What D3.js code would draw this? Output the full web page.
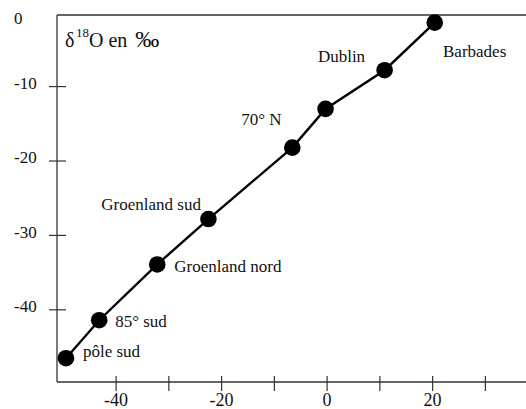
<!DOCTYPE html>
<html>
<head>
<meta charset="utf-8">
<script src="https://cdn.jsdelivr.net/npm/d3@7"></script>
<style>
  body { margin: 0; background: #fff; }
  svg { display: block; }
</style>
</head>
<body>
<script>
// delta 18O vs mean annual temperature

let w = 526;
let h = 409;

// data
const sites = ['pôle sud', '85° sud', 'Groenland nord', 'Groenland sud', '', '70° N', 'Dublin', 'Barbades'];
const temperature = [-49.5, -43.2, -32.2, -22.5, -6.6, -0.3, 10.9, 20.4];
const delta18O = [-46.5, -41.4, -33.9, -27.8, -18.2, -13.0, -7.8, -1.4];

const xTicks = [-40, -30, -20, -10, 0, 10, 20, 30];
const xTickLabels = [-40, -20, 0, 20];
const yTicks = [0, -10, -20, -30, -40];

let points = sites.map((s, i) => ({ site: s, t: temperature[i], d: delta18O[i] }));

let frame = { left: 57, top: 15, bottom: 382, right: w };
let font = 'Liberation Serif';

let x = d3.scaleLinear().domain([-51.2, 37.7]).range([frame.left, frame.right]);
let y = d3.scaleLinear().domain([-49.7, -0.38]).range([frame.bottom, frame.top]);

let svg = d3.select('body').append('svg')
    .attr('width', w).attr('height', h);

// frame lines
let axisColor = '#333';
svg.append('line')
    .attr('x1', frame.left).attr('x2', frame.right)
    .attr('y1', frame.top).attr('y2', frame.top)
    .attr('stroke', axisColor).attr('stroke-width', 1.3);
svg.append('line')
    .attr('x1', frame.left).attr('x2', frame.right)
    .attr('y1', frame.bottom).attr('y2', frame.bottom)
    .attr('stroke', axisColor).attr('stroke-width', 1.3);
svg.append('line')
    .attr('x1', frame.left).attr('x2', frame.left)
    .attr('y1', frame.top).attr('y2', frame.bottom)
    .attr('stroke', axisColor).attr('stroke-width', 1.3);

// x ticks cross the axis
svg.selectAll('.xtick')
    .data(xTicks)
    .enter()
    .append('line')
    .attr('class', 'xtick')
    .attr('x1', d => x(d)).attr('x2', d => x(d))
    .attr('y1', frame.bottom - 6).attr('y2', frame.bottom + 9)
    .attr('stroke', axisColor).attr('stroke-width', 1.2);

svg.selectAll('.xlabel')
    .data(xTickLabels)
    .enter()
    .append('text')
    .attr('class', 'xlabel')
    .attr('x', d => x(d))
    .attr('y', 406)
    .attr('text-anchor', 'middle')
    .attr('font-family', font)
    .attr('font-size', 18)
    .attr('fill', '#111')
    .text(d => d);

// y ticks, the 0 tick sits on the frame top
svg.selectAll('.ytick')
    .data(yTicks.filter(d => y(d) > frame.top + 2))
    .enter()
    .append('line')
    .attr('class', 'ytick')
    .attr('x1', frame.left - 8).attr('x2', frame.left + 9)
    .attr('y1', d => y(d)).attr('y2', d => y(d))
    .attr('stroke', axisColor).attr('stroke-width', 1.2);

svg.selectAll('.ylabel')
    .data(yTicks)
    .enter()
    .append('text')
    .attr('class', 'ylabel')
    .attr('x', 14)
    .attr('y', d => Math.max(y(d), 21) + 2.5)
    .attr('font-family', font)
    .attr('font-size', 17)
    .attr('fill', '#111')
    .text(d => d);

// title
let title = svg.append('text')
    .attr('x', 65)
    .attr('y', 46.5)
    .attr('font-family', font)
    .attr('font-size', 20)
    .attr('fill', '#111');
title.append('tspan').text('δ');
title.append('tspan').attr('font-size', 13).attr('dx', 1.5).attr('dy', -10).text('18');
title.append('tspan').attr('dy', 10).text('O en ');
title.append('tspan').attr('dx', 3).attr('font-size', 24).text('‰');

// line through the points
let line = d3.line()
    .x(d => x(d.t))
    .y(d => y(d.d));

svg.append('path')
    .datum(points)
    .attr('d', line)
    .attr('fill', 'none')
    .attr('stroke', '#000')
    .attr('stroke-width', 2.4);

svg.selectAll('circle')
    .data(points)
    .enter()
    .append('circle')
    .attr('cx', d => x(d.t))
    .attr('cy', d => y(d.d))
    .attr('r', 8.3)
    .attr('fill', '#000');

// where each name sits relative to its dot
let place = {
    'pôle sud': { dx: 17, dy: -1, anchor: 'start' },
    '85° sud': { dx: 16, dy: 6.5, anchor: 'start' },
    'Groenland nord': { dx: 17, dy: 7.4, anchor: 'start' },
    'Groenland sud': { dx: -7.5, dy: -9.5, anchor: 'end' },
    '70° N': { dx: -44, dy: 15.6, anchor: 'end' },
    'Dublin': { dx: -19.5, dy: -8.3, anchor: 'end' },
    'Barbades': { dx: 8.3, dy: 34.6, anchor: 'start' }
};

svg.selectAll('.site')
    .data(points.filter(d => d.site != ''))
    .enter()
    .append('text')
    .attr('class', 'site')
    .attr('x', d => x(d.t) + place[d.site].dx)
    .attr('y', d => y(d.d) + place[d.site].dy)
    .attr('text-anchor', d => place[d.site].anchor)
    .attr('font-family', font)
    .attr('font-size', 17)
    .attr('fill', '#111')
    .text(d => d.site);
</script>
</body>
</html>
